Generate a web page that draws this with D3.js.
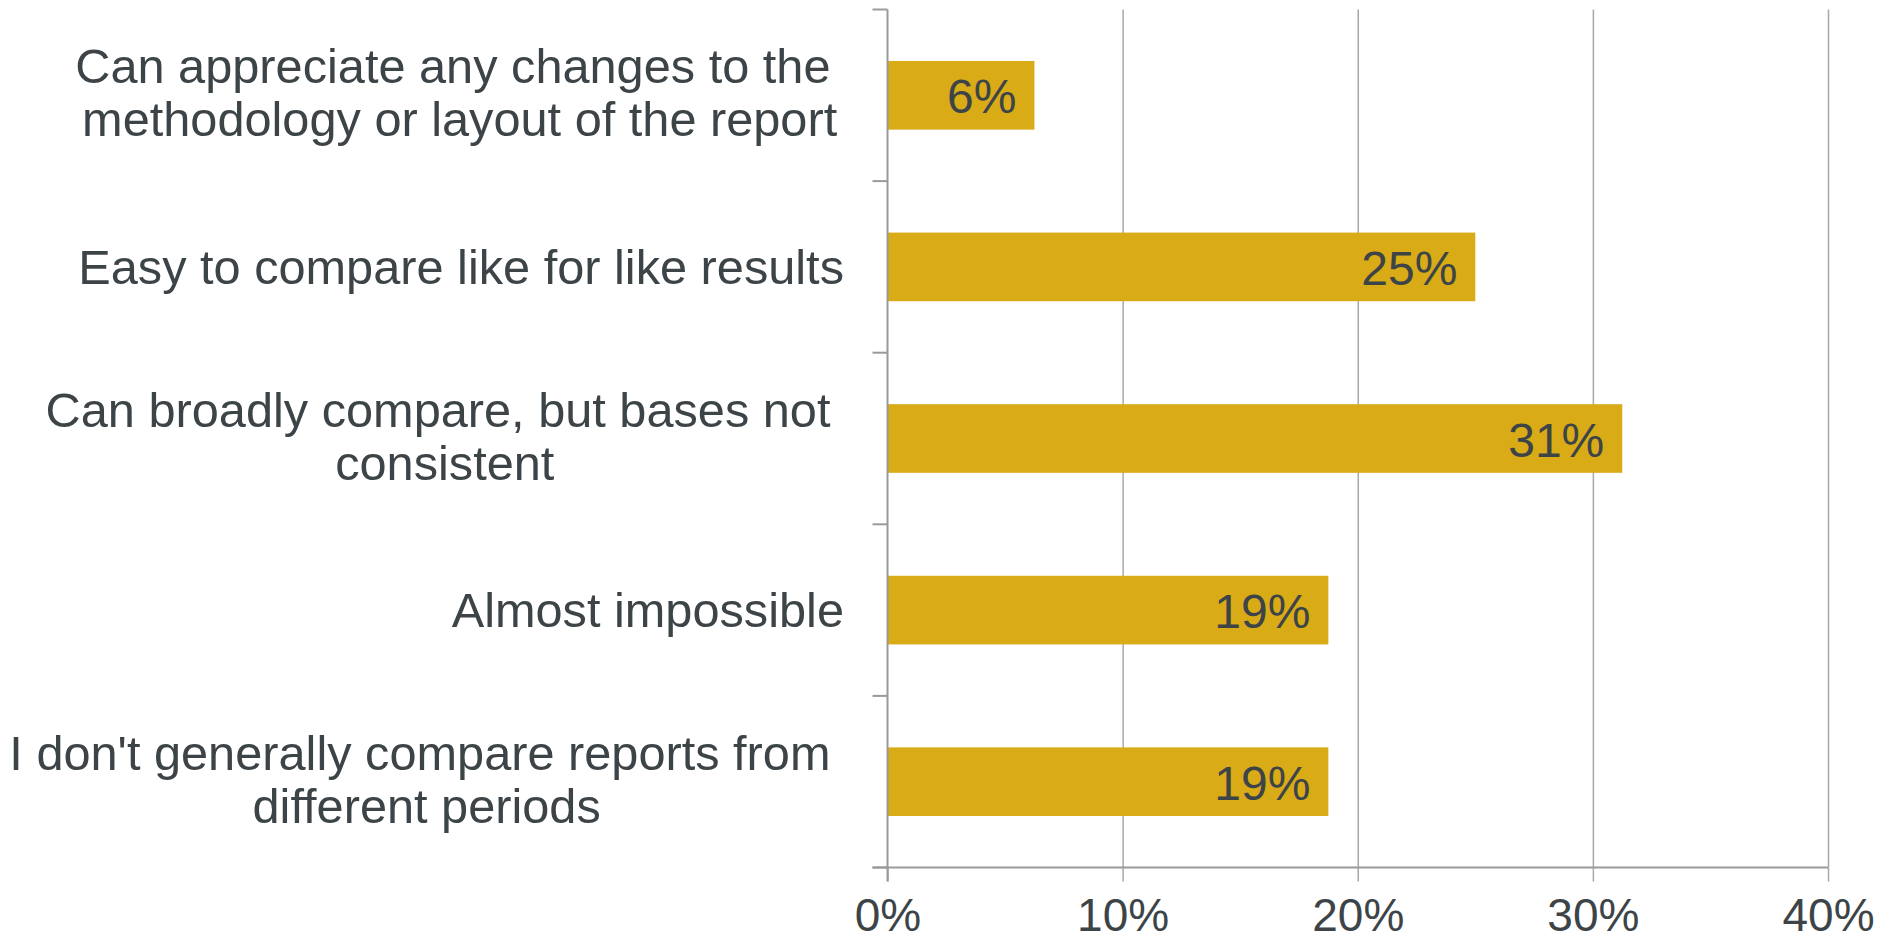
<!DOCTYPE html>
<html>
<head>
<meta charset="utf-8">
<script src="https://cdn.jsdelivr.net/npm/d3@7"></script>
<style>
  html, body { margin: 0; padding: 0; background: #ffffff; }
  svg { display: block; }
  text { font-family: "Liberation Sans", Arial, Helvetica, sans-serif; }
</style>
</head>
<body>
<svg id="chart" width="1896" height="943"></svg>
<script>
// Survey answers, one entry per bar (top to bottom); each label is split into its wrapped lines
const categories = [
  ["Can appreciate any changes to the", "methodology or layout of the report"],
  ["Easy to compare like for like results"],
  ["Can broadly compare, but bases not", "consistent"],
  ["Almost impossible"],
  ["I don't generally compare reports from", "different periods"]
];
// Share of respondents, in percent
const values = [6.25, 25, 31.25, 18.75, 18.75];
// Horizontal axis ticks, in percent
const xTicks = [0, 10, 20, 30, 40];

const textColor = "#3d4448";
const barColor = "#d9ab17";
const axisColor = "#9a9a9a";
const gridColor = "#a8a8a8";
const fontSize = 48;
const labelFontSize = 48.7;
const tickFontSize = 46;

const svg = d3.select("#chart");
const keys = categories.map(c => c.join(" "));

const x = d3.scaleLinear().domain([0, 40]).range([887.5, 1828]);
const y = d3.scaleBand().domain(keys).range([9.5, 867.5]).padding(0);
const barH = y.bandwidth() * 0.4;
const plotTop = y.range()[0], plotBottom = y.range()[1];

// Vertical gridlines
const grid = svg.append("g")
  .attr("transform", `translate(0,${plotBottom})`)
  .call(d3.axisBottom(x).tickValues(xTicks.slice(1)).tickSize(-(plotBottom - plotTop)).tickFormat(""));
grid.select(".domain").remove();
grid.selectAll(".tick line").attr("stroke", gridColor).attr("stroke-width", 1.5);

// Bars
svg.append("g").selectAll("rect")
  .data(values)
  .join("rect")
  .attr("x", x(0))
  .attr("y", (d, i) => y(keys[i]) + (y.bandwidth() - barH) / 2)
  .attr("width", d => x(d) - x(0))
  .attr("height", barH)
  .attr("fill", barColor);

// Value labels inside the bar ends
svg.append("g").selectAll("text")
  .data(values)
  .join("text")
  .attr("x", d => x(d) - 18)
  .attr("y", (d, i) => y(keys[i]) + y.bandwidth() / 2 + 18)
  .attr("text-anchor", "end")
  .attr("font-size", fontSize)
  .attr("fill", textColor)
  .text(d => d3.format(".0f")(d) + "%");

// Bottom axis with tick marks hanging below the baseline
const xAxis = svg.append("g")
  .attr("transform", `translate(0,${plotBottom})`)
  .call(d3.axisBottom(x).tickValues(xTicks).tickSize(14).tickPadding(17).tickFormat(d => d + "%"));
xAxis.select(".domain").remove();
xAxis.selectAll(".tick line").attr("stroke", gridColor).attr("stroke-width", 1.5);
xAxis.selectAll(".tick text")
  .attr("font-size", tickFontSize)
  .attr("fill", textColor)
  .attr("font-family", "Liberation Sans, Arial, sans-serif");
svg.append("line")
  .attr("x1", x(0) - 15).attr("x2", x(40))
  .attr("y1", plotBottom).attr("y2", plotBottom)
  .attr("stroke", axisColor).attr("stroke-width", 2);

// Vertical category axis with tick marks between categories
svg.append("line")
  .attr("x1", x(0)).attr("x2", x(0))
  .attr("y1", plotTop).attr("y2", plotBottom + 14)
  .attr("stroke", axisColor).attr("stroke-width", 2);
const boundaries = keys.map(k => y(k)).concat([plotBottom]);
svg.append("g").selectAll("line")
  .data(boundaries)
  .join("line")
  .attr("x1", x(0) - 15).attr("x2", x(0))
  .attr("y1", d => d).attr("y2", d => d)
  .attr("stroke", axisColor).attr("stroke-width", 2);

// Category labels: each wrapped block is right-aligned, its lines centred within the block
const probe = svg.append("text").attr("font-size", labelFontSize).attr("visibility", "hidden");
const measure = s => { probe.text(s); return probe.node().getComputedTextLength(); };
const spaceW = measure("a a") - measure("aa");
const labelRight = 844;

const labels = svg.append("g");
categories.forEach((lines, i) => {
  const cy = y(keys[i]) + y.bandwidth() / 2;
  const widths = lines.map((l, j) => measure(l) + (j < lines.length - 1 ? spaceW : 0));
  const boxW = d3.max(widths);
  const baselines = lines.length === 1 ? [cy + 17] : [cy - 12, cy + 41];
  lines.forEach((l, j) => {
    labels.append("text")
      .attr("x", labelRight - boxW + (boxW - widths[j]) / 2)
      .attr("y", baselines[j])
      .attr("font-size", labelFontSize)
      .attr("fill", textColor)
      .text(l);
  });
});
probe.remove();
</script>
</body>
</html>
